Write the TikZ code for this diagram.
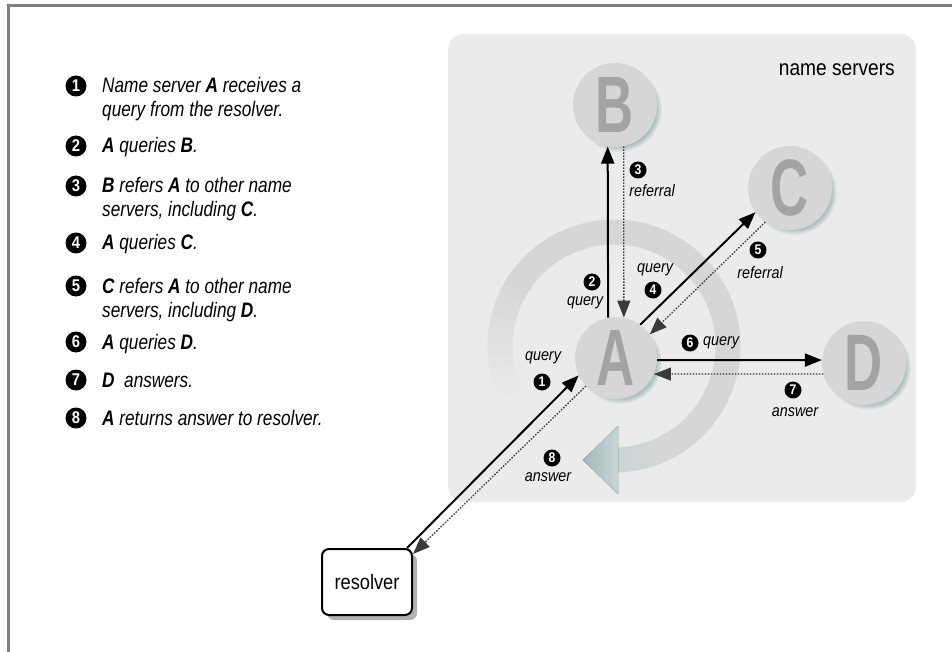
\documentclass[tikz,border=0pt]{standalone}
\usepackage{fontspec}
\setmainfont{Liberation Sans}
\newfontfamily\condf[FakeStretch=0.82]{Liberation Sans}
\newfontfamily\labf[FakeStretch=0.87]{Liberation Sans}
\newfontfamily\letf[FakeStretch=0.66]{Liberation Sans}
\usetikzlibrary{arrows.meta,calc,shadows}
\definecolor{panelc}{HTML}{EBEBEB}
\definecolor{arcc}{HTML}{D6D6D6}
\definecolor{circc}{HTML}{D6D6D6}
\definecolor{letc}{HTML}{A3A3A3}
\definecolor{shadc}{HTML}{ABBDBD}
\definecolor{tealc}{HTML}{A3BBBB}
\definecolor{teall}{HTML}{C8D6D6}
\definecolor{framec}{HTML}{808080}
\definecolor{dotc}{HTML}{3A3A3A}
\begin{document}
\begin{tikzpicture}[x=1pt,y=-1pt,
  listtxt/.style={anchor=base west, inner sep=0, font=\condf\itshape\fontsize{21}{25}\selectfont},
  lnum/.style={circle, fill=black, text=white, minimum size=21pt, inner sep=0, font=\labf\bfseries\fontsize{17}{17}\selectfont},
  snum/.style={circle, fill=black, text=white, minimum size=17pt, inner sep=0, font=\labf\bfseries\fontsize{14}{14}\selectfont},
  lab/.style={inner sep=0, font=\labf\itshape\fontsize{16.5}{18}\selectfont},
  server/.style={circle, fill=circc, minimum size=#1, inner sep=0, text=letc,
     font=\letf\bfseries\fontsize{80}{80}\selectfont,
     circular drop shadow={shadow xshift=4pt, shadow yshift=-4pt, shadow scale=1.02, fill=shadc}},
  qarr/.style={line width=2pt, -{Triangle[length=17pt,width=13pt]}},
  rarr/.style={line width=1.3pt, dotc, dash pattern=on 1.5pt off 1.5pt, -{Triangle[length=17pt,width=13pt]}},
]
\useasboundingbox (0,0) rectangle (952,652);
\fill[white] (0,0) rectangle (952,652);
% frame
\draw[framec, line width=2.5pt] (8.5,652) -- (8.5,5.5) -- (952,5.5);
% panel
\fill[panelc, rounded corners=16pt] (448,34) rectangle (916,502);
\node[anchor=base east, inner sep=0, font=\labf\fontsize{22}{26}\selectfont] (ns) at (895,76) {name servers};
% circular arrow around A
\foreach \i in {0,...,12}{
  \pgfmathtruncatemacro\pp{\i*100/12}
  \draw[line width=25pt, arcc!\pp!panelc] (614,346) ++({150+\i*5}:114) arc[start angle={150+\i*5}, end angle={156+\i*5}, radius=114];
}
\draw[line width=25pt, arcc] (614,346) ++(210:114) arc[start angle=210, end angle=422, radius=114];
\foreach \i in {0,...,6}{
  \pgfmathtruncatemacro\pp{100-\i*100/6}
  \draw[line width=25pt, arcc!\pp!teall] (614,346) ++({420+\i*5}:114) arc[start angle={420+\i*5}, end angle={426+\i*5}, radius=114];
}
\fill[left color=tealc, right color=teall] (583,460) -- (618,426) -- (618,494) -- cycle;
% servers
\node[server=82pt] (A) at (616,358) {A};
\node[server=84pt] (B) at (615,105) {B};
\node[server=84pt] (C) at (790,188) {C};
\node[server=84pt] (D) at (864,363) {D};
% resolver
\node[draw, line width=2pt, rounded corners=7pt, fill=white, minimum width=90pt, minimum height=66pt,
  font=\labf\fontsize{21}{25}\selectfont,
  drop shadow={shadow xshift=5pt, shadow yshift=-5pt, fill=black, opacity=0.3}] (res) at (367,582) {resolver};
% connectors
\coordinate (resq) at ($(res.north east)+(-6,0)$);
\coordinate (resa) at ($(res.north east)+(0,6)$);
\draw[qarr] (resq) -- (A.205);
\draw[rarr] (A.223) -- (resa);
\draw[qarr] (A.101) -- (B.260);
\draw[rarr] (B.282) -- (A.79);
\draw[qarr] (A.54) -- (C.215);
\draw[rarr] (C.234) -- (A.35);
\draw[qarr] (A.357) -- (D.176);
\draw[rarr] (D.195) -- (A.337);
% connector labels
\node[lab] (q1) at (543,358) {query};
\node[snum] (n1) at (542,382) {1};
\node[snum] (n8) at (552,458) {8};
\node[lab] (a8) at (548,477) {answer};
\node[snum] (n2) at (592,282) {2};
\node[lab] (q2) at (585,303) {query};
\node[snum] (n3) at (638,170) {3};
\node[lab] (r3) at (652,191) {referral};
\node[lab] (q4) at (655,270) {query};
\node[snum] (n4) at (653,290) {4};
\node[snum] (n5) at (758,250) {5};
\node[lab] (r5) at (760,273) {referral};
\node[snum] (n6) at (690,343) {6};
\node[lab] (q6) at (721,343) {query};
\node[snum] (n7) at (793,390) {7};
\node[lab] (a7) at (795,412) {answer};
% list
\node[lnum] (l1) at (76,86) {1};
\node[listtxt] (t1a) at (102,93) {Name server \textbf{A} receives a};
\node[listtxt] (t1b) at (102,117) {query from the resolver.};
\node[lnum] (l2) at (76,146) {2};
\node[listtxt] (t2) at (102,153) {\textbf{A} queries \textbf{B}.};
\node[lnum] (l3) at (76,186) {3};
\node[listtxt] (t3a) at (102,193) {\textbf{B} refers \textbf{A} to other name};
\node[listtxt] (t3b) at (102,217) {servers, including \textbf{C}.};
\node[lnum] (l4) at (76,243) {4};
\node[listtxt] (t4) at (102,250) {\textbf{A} queries \textbf{C}.};
\node[lnum] (l5) at (76,286) {5};
\node[listtxt] (t5a) at (102,293) {\textbf{C} refers \textbf{A} to other name};
\node[listtxt] (t5b) at (102,317) {servers, including \textbf{D}.};
\node[lnum] (l6) at (76,342) {6};
\node[listtxt] (t6) at (102,349) {\textbf{A} queries \textbf{D}.};
\node[lnum] (l7) at (76,380) {7};
\node[listtxt] (t7) at (102,387) {\textbf{D}\ \ answers.};
\node[lnum] (l8) at (76,418) {8};
\node[listtxt] (t8) at (102,425) {\textbf{A} returns answer to resolver.};
\end{tikzpicture}
\end{document}
